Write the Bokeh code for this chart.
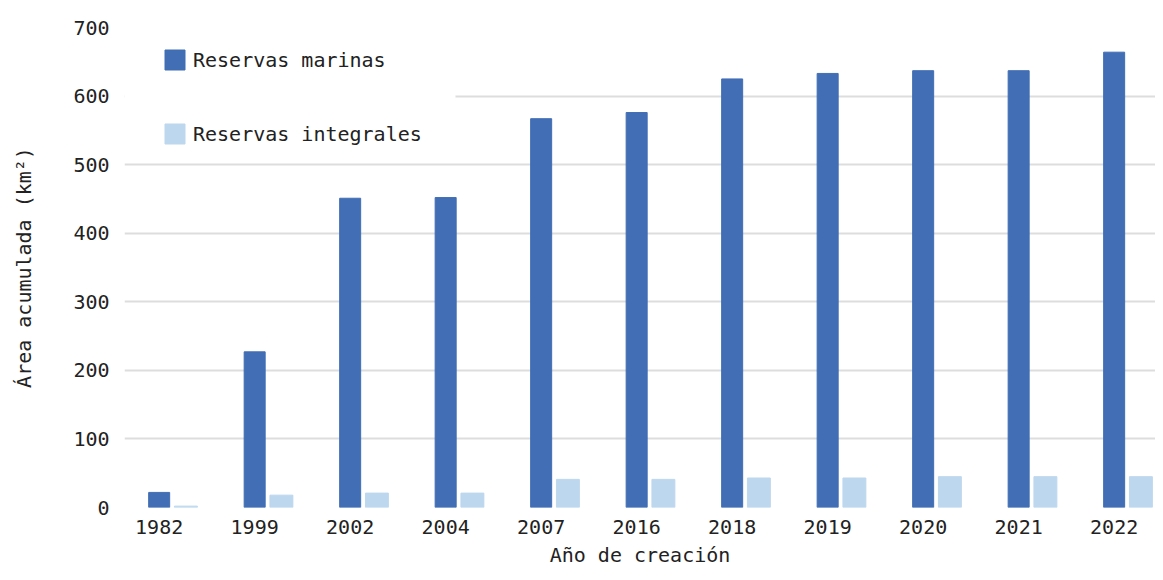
from bokeh.plotting import figure
from bokeh.models import Range1d, FixedTicker, ColumnDataSource, Legend, LegendItem, BoxAnnotation
from bokeh.embed import file_html
from bokeh.resources import INLINE

years = ["1982", "1999", "2002", "2004", "2007", "2016", "2018", "2019", "2020", "2021", "2022"]
marinas = [22, 227, 451, 452, 567, 576, 625, 633, 637, 637, 664]
integrales = [2, 18, 21, 21, 41, 41, 43, 43, 45, 45, 45]

FONT = "DejaVu Sans Mono"
FS = "20px"
DARK = "#416EB4"
LIGHT = "#BDD7EE"
TXT = "#222222"

X0, X1 = -0.363, 10.433
Y0, Y1 = 0, 700

idx = list(range(len(years)))
src = ColumnDataSource(dict(
    x=idx,
    x2=[i + 0.28 for i in idx],
    m=marinas,
    g=integrales,
))

p = figure(width=1155, height=572, output_backend="svg", toolbar_location=None,
           x_range=Range1d(X0, X1), y_range=Range1d(Y0, Y1))
p.min_border_left = 124
p.min_border_right = 0
p.min_border_top = 27
p.min_border_bottom = 65
p.outline_line_color = None

r1 = p.vbar(x="x", top="m", width=0.22, source=src, fill_color=DARK, line_color=DARK)
r2 = p.vbar(x="x2", top="g", width=0.24, source=src, fill_color=LIGHT, line_color=LIGHT)

p.xaxis.ticker = FixedTicker(ticks=idx)
p.xaxis.major_label_overrides = {i: y for i, y in zip(idx, years)}
p.yaxis.ticker = FixedTicker(ticks=[0, 100, 200, 300, 400, 500, 600, 700])

for ax in (p.xaxis[0], p.yaxis[0]):
    ax.axis_line_color = None
    ax.major_tick_line_color = None
    ax.minor_tick_line_color = None
    ax.major_tick_out = 0
    ax.major_tick_in = 0
    ax.minor_tick_out = 0
    ax.major_label_text_font = FONT
    ax.major_label_text_font_size = FS
    ax.major_label_text_color = TXT
    ax.axis_label_text_font = FONT
    ax.axis_label_text_font_size = FS
    ax.axis_label_text_font_style = "normal"
    ax.axis_label_text_color = TXT

p.xaxis.axis_label = "Año de creación"
p.yaxis.axis_label = "Área acumulada (km²)"
p.xaxis.major_label_standoff = 12
p.xaxis.axis_label_standoff = 6
p.yaxis.major_label_standoff = 15
p.yaxis.axis_label_standoff = 34

p.xgrid.grid_line_color = None
p.ygrid.grid_line_color = "#dddddd"
p.ygrid.grid_line_width = 2

# white backdrop behind the legend (hides the grid there)
backdrop = BoxAnnotation(left=X0, right=3.103, bottom=503, top=697,
                         fill_color="white", fill_alpha=1.0, line_color=None)
p.add_layout(backdrop)

legend = Legend(items=[LegendItem(label="Reservas marinas", renderers=[r1]),
                       LegendItem(label="Reservas integrales", renderers=[r2])],
                location=(38, 361), orientation="vertical")
legend.glyph_width = 25
legend.glyph_height = 25
legend.label_height = 25
legend.label_standoff = 6
legend.spacing = 49
legend.padding = 0
legend.margin = 0
legend.border_line_color = None
legend.background_fill_alpha = 0.0
legend.label_text_font = FONT
legend.label_text_font_size = FS
legend.label_text_color = TXT
legend.label_text_baseline = "middle"
p.add_layout(legend, "center")

open("out.html", "w").write(file_html(p, INLINE))
